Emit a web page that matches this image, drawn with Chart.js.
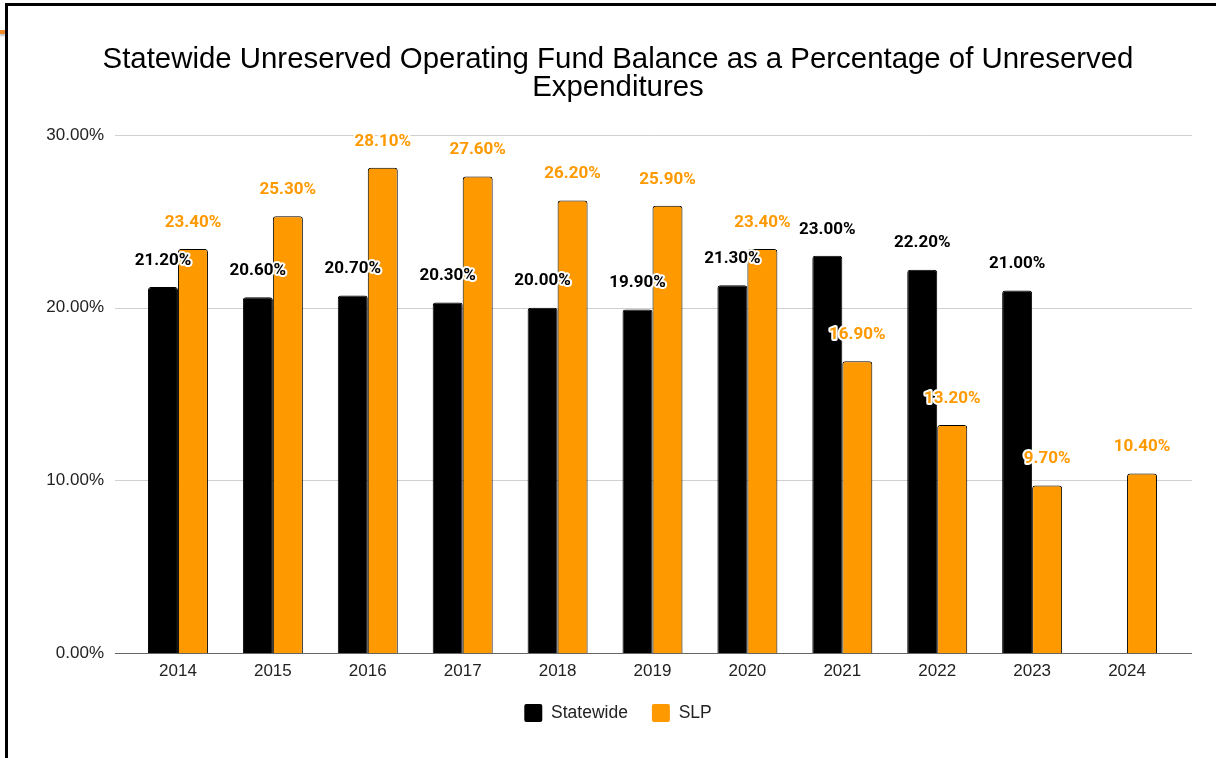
<!DOCTYPE html>
<html>
<head>
<meta charset="utf-8">
<script src="https://cdn.jsdelivr.net/npm/chart.js@4.4.1/dist/chart.umd.min.js"></script>
<style>
  html, body { margin: 0; padding: 0; background: #fff; width: 1216px; height: 758px; overflow: hidden; }
  #frame { position: absolute; left: 5px; top: 3px; width: 1300px; height: 800px; border-left: 3px solid #000; border-top: 3px solid #000; }
  #mark { position: absolute; left: 0; top: 30px; width: 5px; height: 4px; background: #f28c28; box-shadow: 0 2px 2px rgba(0,0,0,0.25); }
  #wrap { position: absolute; left: 0; top: 0; width: 1216px; height: 758px; }
</style>
</head>
<body>
<div id="frame"></div>
<div id="mark"></div>
<div id="wrap"><canvas id="c" width="1216" height="758"></canvas></div>
<script>
const titleLines = ['Statewide Unreserved Operating Fund Balance as a Percentage of Unreserved', 'Expenditures'];
const years = ['2014','2015','2016','2017','2018','2019','2020','2021','2022','2023','2024'];
const statewide = [21.2, 20.6, 20.7, 20.3, 20.0, 19.9, 21.3, 23.0, 22.2, 21.0, null];
const slp = [23.4, 25.3, 28.1, 27.6, 26.2, 25.9, 23.4, 16.9, 13.2, 9.7, 10.4];
const yTicks = [0, 10, 20, 30];

const gridPlugin = {
  id: 'extGrid',
  beforeDatasetsDraw(chart) {
    const ctx = chart.ctx, y = chart.scales.y, a = chart.chartArea;
    ctx.save();
    yTicks.forEach(v => {
      const py = Math.round(y.getPixelForValue(v)) + 0.5;
      ctx.beginPath();
      ctx.strokeStyle = v === 0 ? '#666' : '#d0d0d0';
      ctx.lineWidth = v === 0 ? 1.2 : 1;
      ctx.moveTo(a.left - 15.5, py);
      ctx.lineTo(a.right + 17.5, py);
      ctx.stroke();
    });
    ctx.restore();
  }
};

const labelPlugin = {
  id: 'valLabels',
  afterDatasetsDraw(chart) {
    const ctx = chart.ctx;
    ctx.save();
    ctx.font = 'bold 17px Roboto, "Liberation Sans", sans-serif';
    ctx.textAlign = 'center';
    ctx.textBaseline = 'middle';
    ctx.lineJoin = 'round';
    chart.data.datasets.forEach((ds, di) => {
      const meta = chart.getDatasetMeta(di);
      meta.data.forEach((bar, i) => {
        const v = ds.data[i];
        if (v === null || v === undefined) return;
        const txt = v.toFixed(2) + '%';
        const x = bar.x, yy = bar.y - 26.5;
        ctx.strokeStyle = '#fff';
        ctx.lineWidth = 4;
        ctx.strokeText(txt, x, yy);
        ctx.fillStyle = ds.labelColor;
        ctx.fillText(txt, x, yy);
      });
    });
    ctx.restore();
  }
};

new Chart(document.getElementById('c'), {
  type: 'bar',
  data: {
    labels: years,
    datasets: [
      { label: 'Statewide', data: statewide, backgroundColor: '#000000', borderColor: '#000000', borderWidth: 1,
        borderRadius: {topLeft: 3, topRight: 3}, borderSkipped: 'start', labelColor: '#000000' },
      { label: 'SLP', data: slp, backgroundColor: '#ff9900', borderColor: '#000000', borderWidth: 1,
        borderRadius: {topLeft: 3, topRight: 3}, borderSkipped: 'start', labelColor: '#ff9900' }
    ]
  },
  options: {
    responsive: false,
    animation: false,
    devicePixelRatio: 1,
    layout: { padding: { left: 61.5, right: 41.5, top: 0, bottom: 26 } },
    datasets: { bar: { categoryPercentage: 0.632, barPercentage: 1.0 } },
    plugins: {
      title: {
        display: true,
        text: titleLines,
        color: '#000',
        font: { family: '"Liberation Sans", Arial, sans-serif', size: 29.4, weight: 'normal', lineHeight: 0.952 },
        padding: { top: 46, bottom: 33 }
      },
      legend: {
        position: 'bottom',
        labels: {
          boxWidth: 18, boxHeight: 18, padding: 24, color: '#222',
          font: { family: '"Liberation Sans", Arial, sans-serif', size: 17.5 },
          generateLabels(chart) {
            return chart.data.datasets.map((ds, i) => ({
              text: ds.label, fillStyle: ds.backgroundColor, strokeStyle: ds.backgroundColor,
              lineWidth: 0, borderRadius: 2, datasetIndex: i, hidden: false, fontColor: '#222'
            }));
          }
        }
      },
      tooltip: { enabled: false }
    },
    scales: {
      x: {
        afterFit(scale) { scale.height = 27; },
        grid: { display: false, drawTicks: false },
        border: { display: false },
        ticks: { color: '#222', padding: 8, font: { family: '"Liberation Sans", Arial, sans-serif', size: 17 } }
      },
      y: {
        min: 0, max: 30,
        afterFit(scale) { scale.width = 69; scale._computeLabelArea = () => undefined; },
        afterBuildTicks(scale) { scale.ticks = yTicks.map(v => ({ value: v })); },
        grid: { display: false, drawTicks: false },
        border: { display: false },
        ticks: { color: '#222', padding: 26.5, font: { family: '"Liberation Sans", Arial, sans-serif', size: 17 },
          callback: v => v.toFixed(2) + '%' }
      }
    }
  },
  plugins: [gridPlugin, labelPlugin]
});
</script>
</body>
</html>
